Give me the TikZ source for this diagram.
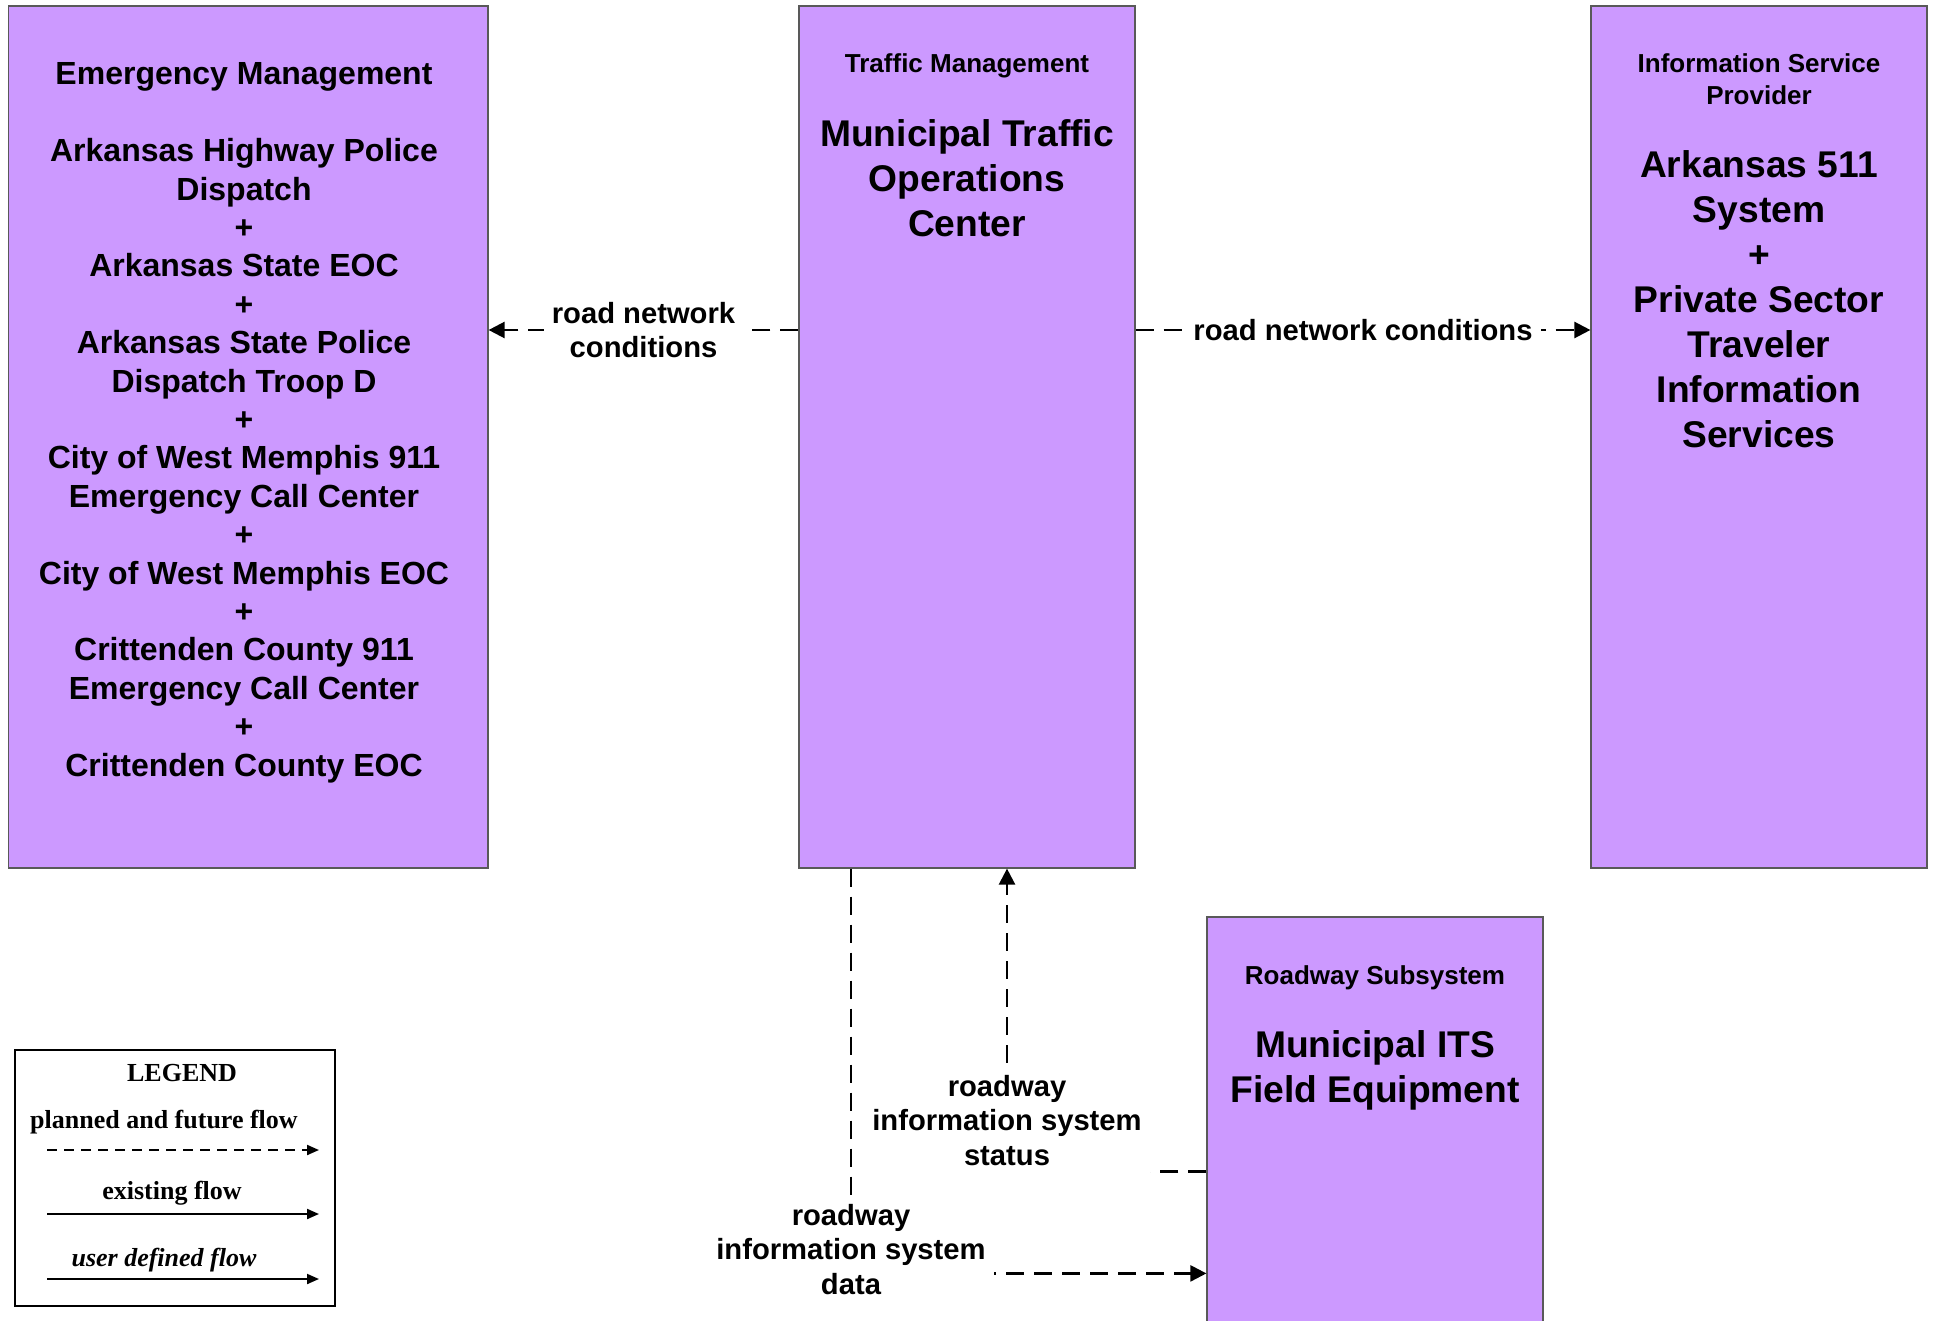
\documentclass[tikz,border=0pt]{standalone}
\usepackage{fontspec}
\setmainfont{Liberation Sans}
\newfontfamily\legendfont{Liberation Serif}
\usetikzlibrary{arrows.meta, positioning}
\definecolor{sysfill}{HTML}{CC99FF}

\begin{document}
\begin{tikzpicture}[x=0.5pt, y=-0.5pt,
  sysbox/.style = {rectangle, draw=black!65, line width=0.6pt, fill=sysfill,
    minimum width=168pt, minimum height=431pt, inner sep=0pt},
  headtext/.style = {align=center, inner sep=0pt,
    font=\bfseries\fontsize{13}{16}\selectfont},
  nametext/.style = {align=center, inner sep=0pt,
    font=\bfseries\fontsize{18.6}{22.5}\selectfont},
  emtext/.style = {align=center, inner sep=0pt,
    font=\bfseries\fontsize{16}{19.2}\selectfont},
  flow/.style = {draw, line width=1.2pt, dash pattern=on 9pt off 5pt,
    -{Triangle[length=8pt, width=8pt]}},
  flowlabel/.style = {fill=white, align=center, inner sep=4pt,
    font=\bfseries\fontsize{14.6}{17.3}\selectfont},
  legendtext/.style = {inner sep=0pt, font=\legendfont\bfseries\fontsize{13}{15}\selectfont},
  legendarrow/.style = {line width=1pt, -{Triangle[length=6pt, width=5pt]}}]
  \useasboundingbox (0,0) rectangle (1937,1321);

  % subsystems
  \node[sysbox, minimum width=239.7pt] (em) at (248.3,437) {};
  \node[sysbox] (tm) at (967,437) {};
  \node[sysbox] (isp) at (1759,437) {};
  \node[sysbox, minimum height=213pt] (rs) at (1375,1130) {};

  \node[emtext, anchor=north] (emname) at (244,62.5) {Emergency Management\\[19.2pt]
    Arkansas Highway Police\\ Dispatch\\ +\\ Arkansas State EOC\\ +\\
    Arkansas State Police\\ Dispatch Troop D\\ +\\ City of West Memphis 911\\
    Emergency Call Center\\ +\\ City of West Memphis EOC\\ +\\
    Crittenden County 911\\ Emergency Call Center\\ +\\ Crittenden County EOC};

  \node[headtext, anchor=north] (tmhead) at (967,53) {Traffic Management};
  \node[nametext, below=20.5pt of tmhead] (tmname) {Municipal Traffic\\ Operations\\ Center};

  \node[headtext, anchor=north] (isphead) at (1759,53) {Information Service\\ Provider};
  \node[nametext, below=22.5pt of isphead] (ispname) {Arkansas 511\\ System\\ +\\
    Private Sector\\ Traveler\\ Information\\ Services};

  \node[headtext, anchor=north] (rshead) at (1375,965) {Roadway Subsystem};
  \node[nametext, below=20pt of rshead] (rsname) {Municipal ITS\\ Field Equipment};

  % flows
  \draw[flow] ([yshift=53.5pt]tm.west) -- node[flowlabel] (lblem) {road network\\ conditions}
    ([yshift=53.5pt]em.east);
  \draw[flow] ([yshift=53.5pt]tm.east) -- node[flowlabel] (lblisp) {road network conditions}
    ([yshift=53.5pt]isp.west);
  \draw[flow] ([xshift=-58pt]tm.south) |- node[flowlabel, pos=0.5, yshift=12pt] (lbldata)
    {roadway\\ information system\\ data} ([yshift=-178.5pt]rs.north west);
  \draw[flow] ([yshift=-127.5pt]rs.north west) -| node[flowlabel, pos=0.5, yshift=25.5pt] (lblstatus)
    {roadway\\ information system\\ status} ([xshift=20pt]tm.south);

  % legend
  \node[draw, line width=1pt, minimum width=160pt, minimum height=128pt, inner sep=0pt]
    (legend) at (175,1178) {};
  \node[legendtext] (lgtitle) at (182,1073) {LEGEND};
  \node[legendtext] (lgplanned) at (164,1122) {planned and future flow};
  \node[legendtext] (lgexisting) at (172,1193) {existing flow};
  \node[legendtext, font=\legendfont\bfseries\itshape\fontsize{13}{15}\selectfont]
    (lguser) at (164,1260) {user defined flow};
  \coordinate (lgp1) at (47,1150);
  \coordinate (lgp2) at (319,1150);
  \coordinate (lge1) at (47,1214);
  \coordinate (lge2) at (319,1214);
  \coordinate (lgu1) at (47,1279);
  \coordinate (lgu2) at (319,1279);
  \draw[legendarrow, dash pattern=on 5pt off 3.5pt] (lgp1) -- (lgp2);
  \draw[legendarrow] (lge1) -- (lge2);
  \draw[legendarrow] (lgu1) -- (lgu2);
\end{tikzpicture}
\end{document}
